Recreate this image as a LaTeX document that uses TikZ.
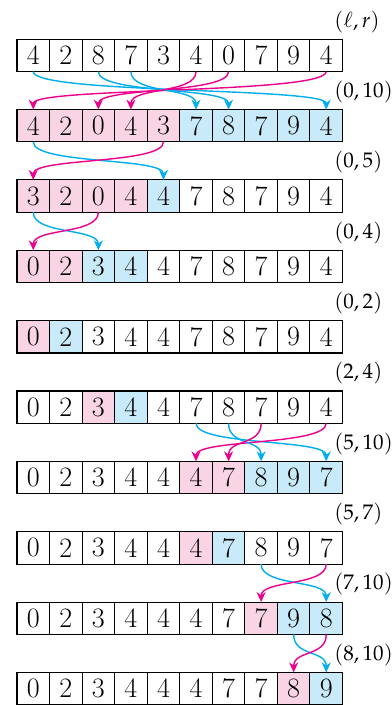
\documentclass[tikz,border=0pt]{standalone}
\usepackage{mathpazo}
\usetikzlibrary{arrows.meta}
\definecolor{CyanA}{HTML}{00AEEF}
\definecolor{CyanB}{HTML}{C9EAF8}
\definecolor{PinkA}{HTML}{EC008C}
\definecolor{PinkB}{HTML}{F9D4E5}
\tikzset{
  cell/.style={draw, inner sep=0pt, outer sep=0pt, minimum width=0.652cm, minimum height=0.648cm, line width=0.6pt, font=\fontsize{16}{18}\selectfont},
  lbl/.style={anchor=west, inner sep=0pt, font=\fontsize{12}{14}\selectfont},
  swp/.style={-{Stealth[length=2mm, width=1.8mm]}, line width=0.8pt},
  toright/.style={swp, color=CyanA},
  toleft/.style={swp, color=PinkA}
}

\begin{document}
\begin{tikzpicture}
  \useasboundingbox (0,0) rectangle (7.84,-14.12);
  % rows: values / pink range / blue range
  \foreach \vals/\la/\lb/\ra/\rb [count=\k from 0] in {
      {4,2,8,7,3,4,0,7,9,4}/-1/-1/-1/-1,
      {4,2,0,4,3,7,8,7,9,4}/0/4/5/9,
      {3,2,0,4,4,7,8,7,9,4}/0/3/4/4,
      {0,2,3,4,4,7,8,7,9,4}/0/1/2/3,
      {0,2,3,4,4,7,8,7,9,4}/0/0/1/1,
      {0,2,3,4,4,7,8,7,9,4}/2/2/3/3,
      {0,2,3,4,4,4,7,8,9,7}/5/6/7/9,
      {0,2,3,4,4,4,7,8,9,7}/5/5/6/6,
      {0,2,3,4,4,4,7,7,9,8}/7/7/8/9,
      {0,2,3,4,4,4,7,7,8,9}/8/8/9/9} {
    \foreach \v [count=\i from 0] in \vals {
      \def\f{white}
      \ifnum\i<\la\else\ifnum\i>\lb\else\def\f{PinkB}\fi\fi
      \ifnum\i<\ra\else\ifnum\i>\rb\else\def\f{CyanB}\fi\fi
      \node[cell, fill=\f] (c\k-\i) at ({0.34+0.652*(\i+0.5)}, {-1.110-1.409*\k}) {\v};
    }
  }
  % (l,r) above each row
  \foreach \t [count=\k from 0] in {{\ell,r},{0,10},{0,5},{0,4},{0,2},{2,4},{5,10},{5,7},{7,10},{8,10}}
    \node[lbl] (l\k) at (6.69, {-0.434-1.409*\k}) {$(\t)$};
  % swaps
  \foreach \k/\n/\a/\b in {0/1/0/9, 0/1/2/6, 0/1/3/5, 1/2/0/4, 2/3/0/2, 5/6/5/9, 5/6/6/7, 7/8/7/9, 8/9/8/9} {
    \draw[toright] (c\k-\a.south) .. controls +(0,-0.45) and +(0,0.45) .. (c\n-\b.north);
    \draw[toleft] (c\k-\b.south) .. controls +(0,-0.45) and +(0,0.45) .. (c\n-\a.north);
  }
\end{tikzpicture}
\end{document}
